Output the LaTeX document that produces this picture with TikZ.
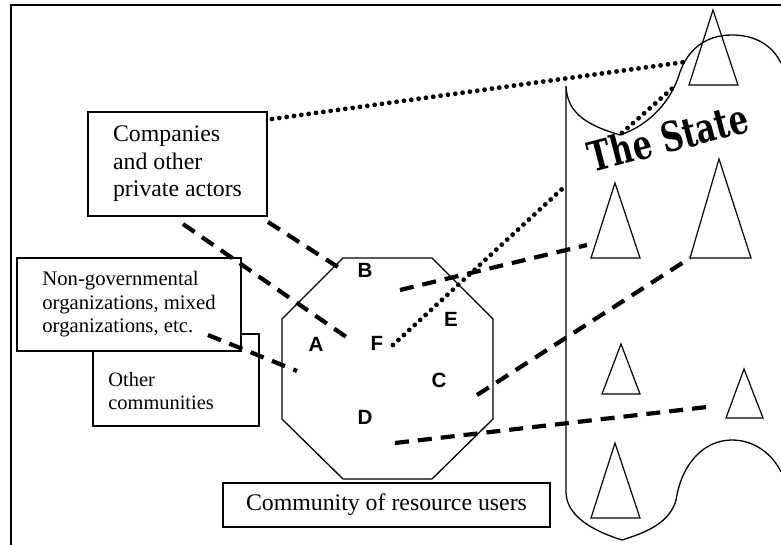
\documentclass[tikz,border=0pt]{standalone}
\usepackage{fontspec}
\setmainfont{Liberation Serif}
\newfontfamily\lettersf{Liberation Sans}
\newfontfamily\statesf{DejaVu Serif}
\usepackage{tikz}
\usetikzlibrary{positioning}

\tikzset{
  actorbox/.style={draw, line width=0.65pt, fill=white, inner sep=0pt, align=left},
  tie/.style={line width=2.1pt, dash pattern=on 7pt off 4.5pt},
  dots/.style={line width=2.4pt, line cap=round, dash pattern=on 0pt off 3.7pt},
  letter/.style={font=\lettersf\bfseries\fontsize{10.3}{12}\selectfont, inner sep=0pt},
  organ/.style={line width=0.6pt},
}

\begin{document}
\begin{tikzpicture}[x=0.5pt, y=-0.5pt]
\useasboundingbox (0,0) rectangle (781,545);
\draw[line width=0.75pt] (781,5) -- (11,5) -- (11,545);
% the state and its organs
\draw[line width=0.65pt] (781,63) .. controls (772,45) and (755,35) .. (732,35)
  .. controls (705,35) and (688,50) .. (680,72)
  .. controls (672,100) and (650,125) .. (620,135)
  .. controls (590,126) and (567,115) .. (566,86)
  -- (566,493)
  .. controls (567,515) and (590,530) .. (622,540)
  .. controls (648,532) and (670,522) .. (676,500)
  .. controls (682,462) and (705,440) .. (732,440)
  .. controls (755,440) and (773,455) .. (781,472);
\draw[organ] (713,10) -- (738,85) -- (689,85) -- cycle;
\draw[organ] (615,183) -- (640,258) -- (591,258) -- cycle;
\draw[organ] (719,159) -- (751,258) -- (690,258) -- cycle;
\draw[organ] (621,344) -- (640,394) -- (602,394) -- cycle;
\draw[organ] (744,369) -- (763,418) -- (726,418) -- cycle;
\draw[organ] (615,443) -- (640,518) -- (591,518) -- cycle;
\node[rotate=14.5, anchor=base, xscale=0.74, inner sep=0pt,
  font=\statesf\bfseries\fontsize{20.5}{24}\selectfont] (state) at (672,152) {The State};
% the community
\draw[line width=0.65pt] (343,258) -- (432,258) -- (493,319) -- (493,419) -- (432,479)
  -- (343,479) -- (282,419) -- (282,319) -- cycle;
\node[letter] (b) at (365,270) {B};
\node[letter] (a) at (316,344) {A};
\node[letter] (f) at (377,343) {F};
\node[letter] (e) at (451,319) {E};
\node[letter] (c) at (439,380) {C};
\node[letter] (d) at (365,417) {D};
% outside actors
\node[actorbox, minimum width=83pt, minimum height=46pt] (others) at (176,380) {};
\node[anchor=north west, inner sep=0pt, align=left,
  font=\fontsize{10.2}{11.5}\selectfont] (others-text) at (108,372) {Other\\communities};
\node[actorbox, minimum width=112pt, minimum height=46.5pt,
  font=\fontsize{10.35}{11.75}\selectfont] (ngo) at (129,304.5)
  {Non-governmental\\organizations, mixed\\organizations, etc.};
\node[actorbox, minimum width=89.5pt, minimum height=52pt,
  font=\fontsize{11.9}{13.75}\selectfont] (companies) at (177.5,164)
  {Companies\\and other\\private actors};
\node[actorbox, minimum width=163.5pt, minimum height=22pt,
  font=\fontsize{11.9}{14}\selectfont] (users) at (386.5,505) {Community of resource users};
% links
\coordinate (comp-b) at (268,222);
\coordinate (at-b) at (344,271);
\coordinate (comp-f) at (183,224);
\coordinate (at-f) at (352,341);
\coordinate (ngo-a) at (208,335);
\coordinate (at-a) at (297,371);
\coordinate (at-e) at (400,290);
\coordinate (organ-mid) at (587,245);
\coordinate (at-c) at (477,395);
\coordinate (organ-big) at (690,258);
\coordinate (at-d) at (395,443);
\coordinate (organ-small) at (707,407);
\coordinate (comp-top) at (272,119);
\coordinate (state-top) at (685,62);
\coordinate (notch) at (622,133);
\coordinate (notch-top) at (676,85);
\coordinate (from-f) at (393,345);
\coordinate (state-edge) at (562,189);
\draw[tie] (comp-b) -- (at-b);
\draw[tie] (comp-f) -- (at-f);
\draw[tie] (ngo-a) -- (at-a);
\draw[tie] (at-e) -- (organ-mid);
\draw[tie] (at-c) -- (organ-big);
\draw[tie] (at-d) -- (organ-small);
\draw[dots] (comp-top) -- (state-top);
\draw[dots] (notch) -- (notch-top);
\draw[dots] (from-f) -- (state-edge);
\end{tikzpicture}
\end{document}
